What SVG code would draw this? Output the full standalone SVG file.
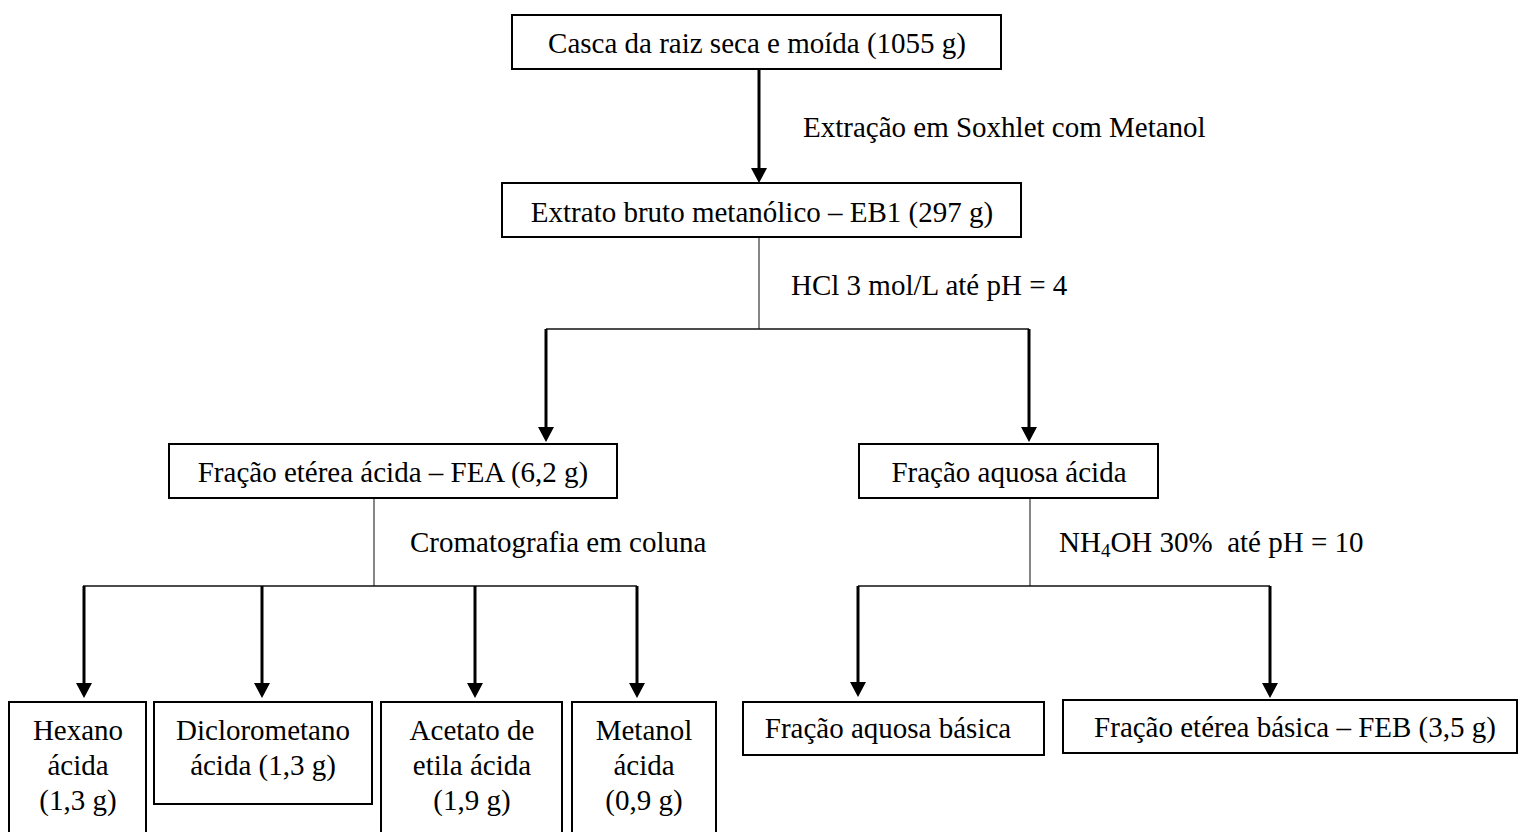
<svg xmlns="http://www.w3.org/2000/svg" width="1518" height="832" viewBox="0 0 1518 832">
  <style>
    .box { fill: #ffffff; stroke: #000000; stroke-width: 2; }
    .t { font-family: "Liberation Serif", "Times New Roman", serif; font-size: 29px; fill: #000000; }
    .c { text-anchor: middle; }
    .arrow { stroke: #000000; stroke-width: 3; fill: none; marker-end: url(#head); }
    .branch { stroke: #111111; stroke-width: 1.6; fill: none; }
    .stub { stroke: #444444; stroke-width: 1.3; fill: none; }
  </style>
  <defs>
    <marker id="head" markerUnits="userSpaceOnUse" markerWidth="17" markerHeight="17" refX="4" refY="8.5" orient="auto" viewBox="0 0 17 17">
      <path d="M0,0.5 L15,8.5 L0,16.5 z" fill="#000000"/>
    </marker>
  </defs>

  <rect width="1518" height="832" fill="#ffffff"/>

  <!-- connectors -->
  <g id="connectors">
    <line class="arrow" x1="759" y1="69" x2="759" y2="172"/>
    <line class="stub" x1="759" y1="237" x2="759" y2="329"/>
    <line class="branch" x1="546" y1="329" x2="1029" y2="329"/>
    <line class="arrow" x1="546" y1="329" x2="546" y2="431"/>
    <line class="arrow" x1="1029" y1="329" x2="1029" y2="431"/>

    <line class="stub" x1="374" y1="498" x2="374" y2="586"/>
    <line class="branch" x1="83" y1="586" x2="637" y2="586"/>
    <line class="arrow" x1="84" y1="586" x2="84" y2="687"/>
    <line class="arrow" x1="262" y1="586" x2="262" y2="687"/>
    <line class="arrow" x1="475" y1="586" x2="475" y2="687"/>
    <line class="arrow" x1="637" y1="586" x2="637" y2="687"/>

    <line class="stub" x1="1030" y1="498" x2="1030" y2="586"/>
    <line class="branch" x1="858" y1="586" x2="1270" y2="586"/>
    <line class="arrow" x1="858" y1="586" x2="858" y2="686"/>
    <line class="arrow" x1="1270" y1="586" x2="1270" y2="687"/>

    <text class="t" x="803" y="137">Extração em Soxhlet com Metanol</text>
    <text class="t" x="791" y="295">HCl 3 mol/L até pH = 4</text>
    <text class="t" x="410" y="552">Cromatografia em coluna</text>
    <text class="t" x="1059" y="552" xml:space="preserve">NH<tspan font-size="19" dy="5">4</tspan><tspan dy="-5">OH 30%  até pH = 10</tspan></text>
  </g>

  <g id="raiz">
    <rect class="box" x="512" y="15" width="489" height="54"/>
    <text class="t c" x="757" y="53">Casca da raiz seca e moída (1055 g)</text>
  </g>

  <g id="eb1">
    <rect class="box" x="502" y="183" width="519" height="54"/>
    <text class="t c" x="762" y="222">Extrato bruto metanólico – EB1 (297 g)</text>
  </g>

  <g id="fea">
    <rect class="box" x="169" y="444" width="448" height="54"/>
    <text class="t c" x="393" y="482">Fração etérea ácida – FEA (6,2 g)</text>
  </g>

  <g id="aquosa-acida">
    <rect class="box" x="859" y="444" width="299" height="54"/>
    <text class="t c" x="1009" y="482">Fração aquosa ácida</text>
  </g>

  <g id="hexano">
    <rect class="box" x="9" y="702" width="137" height="145"/>
    <text class="t c" x="78" y="740">Hexano</text>
    <text class="t c" x="78" y="775">ácida</text>
    <text class="t c" x="78" y="810">(1,3 g)</text>
  </g>

  <g id="diclorometano">
    <rect class="box" x="154" y="702" width="218" height="102"/>
    <text class="t c" x="263" y="740">Diclorometano</text>
    <text class="t c" x="263" y="775">ácida (1,3 g)</text>
  </g>

  <g id="acetato">
    <rect class="box" x="381" y="702" width="181" height="145"/>
    <text class="t c" x="472" y="740">Acetato de</text>
    <text class="t c" x="472" y="775">etila ácida</text>
    <text class="t c" x="472" y="810">(1,9 g)</text>
  </g>

  <g id="metanol">
    <rect class="box" x="572" y="702" width="144" height="145"/>
    <text class="t c" x="644" y="740">Metanol</text>
    <text class="t c" x="644" y="775">ácida</text>
    <text class="t c" x="644" y="810">(0,9 g)</text>
  </g>

  <g id="aquosa-basica">
    <rect class="box" x="743" y="702" width="301" height="53"/>
    <text class="t c" x="888" y="738">Fração aquosa básica</text>
  </g>

  <g id="feb">
    <rect class="box" x="1063" y="700" width="454" height="53"/>
    <text class="t c" x="1295" y="737">Fração etérea básica – FEB (3,5 g)</text>
  </g>
</svg>
